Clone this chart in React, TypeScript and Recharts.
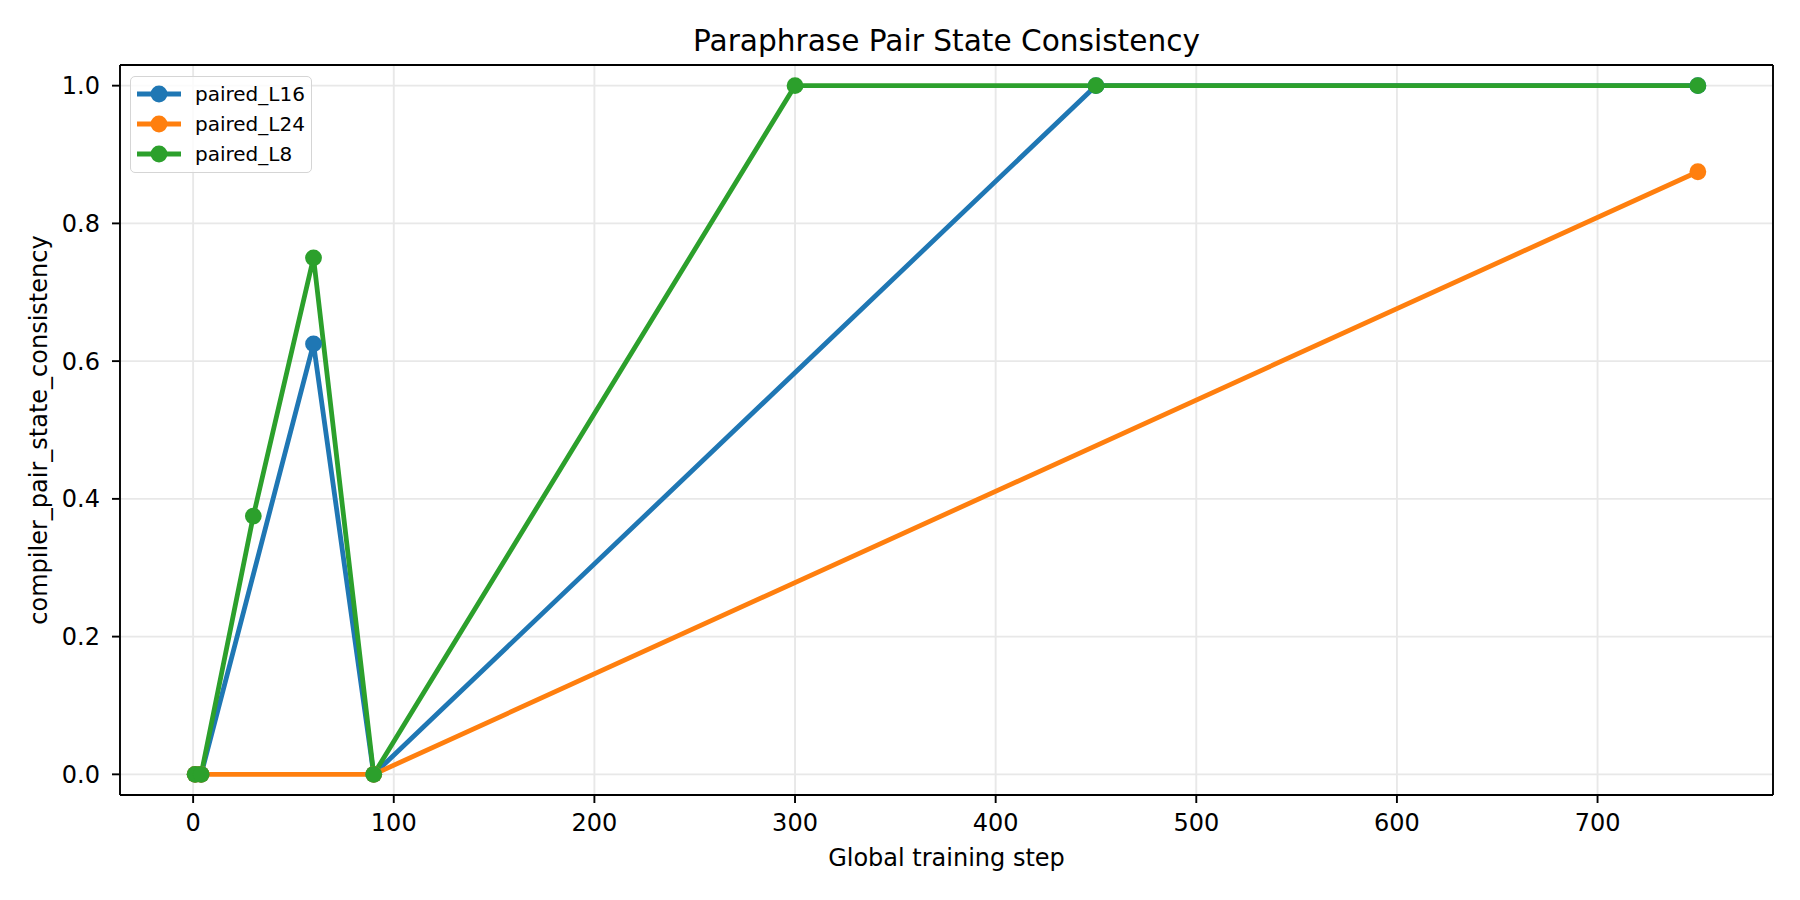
import React from 'react';
import {
  LineChart, Line, XAxis, YAxis, CartesianGrid, ReferenceLine
} from 'recharts';

const FONT = '"DejaVu Sans", sans-serif';

// steps and values per run
const l16Steps = [1, 4, 60, 90, 450, 750];
const l16Values = [0, 0, 0.625, 0, 1.0, 1.0];

const l24Steps = [1, 4, 90, 750];
const l24Values = [0, 0, 0, 0.875];

const l8Steps = [1, 4, 30, 60, 90, 300, 450, 750];
const l8Values = [0, 0, 0.375, 0.75, 0, 1.0, 1.0, 1.0];

const xTicks = [0, 100, 200, 300, 400, 500, 600, 700];
const yTicks = [0, 0.2, 0.4, 0.6, 0.8, 1.0];

const X_DOMAIN: [number, number] = [-36.45, 787.45];
const Y_DOMAIN: [number, number] = [-0.03, 1.03];

const toPoints = (steps: number[], values: number[]) =>
  steps.map((s, i) => ({ step: s, value: values[i] }));

const series = [
  { name: 'paired_L16', color: '#1f77b4', data: toPoints(l16Steps, l16Values) },
  { name: 'paired_L24', color: '#ff7f0e', data: toPoints(l24Steps, l24Values) },
  { name: 'paired_L8', color: '#2ca02c', data: toPoints(l8Steps, l8Values) },
];

// legend drawn as an overlay so it doesn't eat into the plot area
const LegendBox = () => (
  <div style={{
    position: 'absolute', left: 130, top: 76,
    boxSizing: 'border-box', width: 182, height: 97, padding: '2px 7px 5px 6px',
    border: '1.9px solid #d5d5d5', borderRadius: 5, background: 'rgba(255,255,255,0.8)',
    fontFamily: FONT, fontSize: 20, color: '#000',
  }}>
    {series.map(s => (
      <div key={s.name} style={{ display: 'flex', alignItems: 'center', height: 30 }}>
        <svg width={44} height={20} style={{ marginRight: 14, flex: 'none' }}>
          <line x1={0} y1={10} x2={44} y2={10} stroke={s.color} strokeWidth={4.8} />
          <circle cx={22} cy={10} r={8.4} fill={s.color} />
        </svg>
        <span style={{ lineHeight: '30px' }}>{s.name}</span>
      </div>
    ))}
  </div>
);

const tickStyle = { fill: '#000', fontSize: 24, fontFamily: FONT };

export default function App() {
  return (
    <div style={{ position: 'absolute', left: 0, top: 0, width: 1800, height: 900, background: '#fff' }}>
      <div style={{
        position: 'absolute', left: 120, top: 26, width: 1653, textAlign: 'center',
        fontFamily: FONT, fontSize: 29.6, lineHeight: '30px', color: '#000',
      }}>
        Paraphrase Pair State Consistency
      </div>
      <LineChart width={1800} height={900} margin={{ top: 65, right: 27, left: 20, bottom: 25 }}>
        <CartesianGrid stroke="#e8e8e8" strokeWidth={1.9} />
        <XAxis
          type="number" dataKey="step" domain={X_DOMAIN} ticks={xTicks} allowDataOverflow
          height={80} tickSize={8} tickMargin={11} tick={tickStyle}
          axisLine={{ stroke: '#000', strokeWidth: 1.9 }} tickLine={{ stroke: '#000', strokeWidth: 1.9 }}
          label={{ value: 'Global training step', position: 'insideBottom', offset: 9,
            style: { fill: '#000', fontSize: 24, fontFamily: FONT } }}
        />
        <YAxis
          type="number" dataKey="value" domain={Y_DOMAIN} ticks={yTicks} allowDataOverflow
          width={100} tickSize={8} tickMargin={12} tick={tickStyle}
          tickFormatter={(v: number) => v.toFixed(1)}
          axisLine={{ stroke: '#000', strokeWidth: 1.9 }} tickLine={{ stroke: '#000', strokeWidth: 1.9 }}
          label={{ value: 'compiler_pair_state_consistency', angle: -90, position: 'insideLeft', offset: 18,
            style: { fill: '#000', fontSize: 24, fontFamily: FONT, textAnchor: 'middle' } }}
        />
        <ReferenceLine y={Y_DOMAIN[1]} stroke="#000" strokeWidth={1.9} />
        <ReferenceLine x={X_DOMAIN[1]} stroke="#000" strokeWidth={1.9} />
        {series.map(s => (
          <Line
            key={s.name} data={s.data} dataKey="value" name={s.name} type="linear"
            stroke={s.color} strokeWidth={4.8}
            dot={{ r: 8.4, fill: s.color, stroke: s.color, strokeWidth: 0 }}
            activeDot={false} isAnimationActive={false}
          />
        ))}
      </LineChart>
      <LegendBox />
    </div>
  );
}
